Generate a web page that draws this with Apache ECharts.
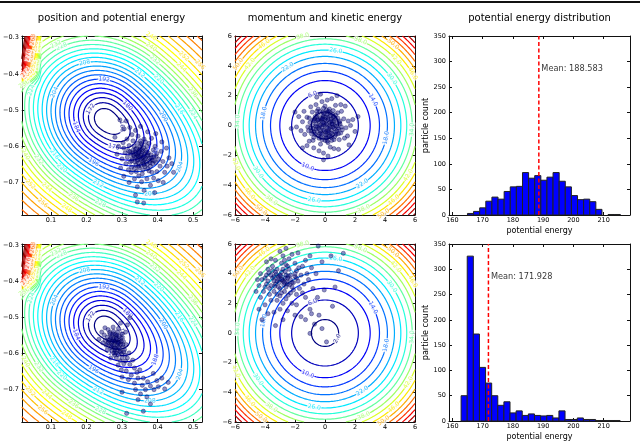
<!DOCTYPE html>
<html>
<head>
<meta charset="utf-8">
<title>particles in a potential</title>
<script src="https://cdn.jsdelivr.net/npm/echarts@6/dist/echarts.min.js"></script>
</head>
<body style="margin:0;background:#fff;">
<div id="main" style="width:640px;height:442px;"></div>
<script>
// contour levels
var potLevels = [168,172,176,180,184,188,192,196,200,204,208,212,216,220,224,228,232,236,240,
                 244,248,252,256,260,264,268,272,276,280,284,288,292,296];
var kinLevels = [2,6,10,14,18,22,26,30,34,38,42,46,50,54,58,62,66,70];

// particles, position space (top = before, bottom = after)
var posTop = [
  [0.352,-0.625],[0.345,-0.619],[0.358,-0.631],[0.349,-0.612],[0.363,-0.622],[0.340,-0.629],[0.355,-0.640],[0.367,-0.611],[0.337,-0.616],[0.360,-0.648],
  [0.344,-0.637],[0.371,-0.627],[0.333,-0.625],[0.350,-0.602],[0.364,-0.637],[0.347,-0.646],[0.374,-0.618],[0.341,-0.606],[0.357,-0.615],[0.329,-0.634],
  [0.368,-0.644],[0.353,-0.653],[0.336,-0.643],[0.377,-0.633],[0.361,-0.604],[0.346,-0.628],[0.331,-0.611],[0.379,-0.645],[0.339,-0.652],[0.365,-0.657],
  [0.356,-0.596],[0.325,-0.622],[0.382,-0.624],[0.348,-0.660],[0.370,-0.600],[0.334,-0.600],[0.359,-0.665],[0.385,-0.638],[0.323,-0.644],[0.343,-0.592],
  [0.350,-0.630],[0.356,-0.620],[0.344,-0.624],[0.362,-0.628],[0.348,-0.617],[0.353,-0.635],[0.339,-0.621],[0.366,-0.633],[0.357,-0.609],[0.342,-0.641],
  [0.373,-0.624],[0.335,-0.630],[0.360,-0.642],[0.351,-0.608],[0.369,-0.616],[0.330,-0.618],[0.378,-0.640],[0.346,-0.655],[0.362,-0.651],[0.338,-0.608],
  [0.383,-0.632],[0.327,-0.640],[0.354,-0.592],[0.371,-0.650],[0.391,-0.640],[0.322,-0.615],[0.386,-0.648],[0.396,-0.628],[0.376,-0.668],[0.335,-0.662],
  [0.318,-0.612],[0.390,-0.629],[0.372,-0.662],[0.327,-0.658],[0.352,-0.585],[0.388,-0.610],[0.315,-0.630],[0.380,-0.655],[0.340,-0.670],[0.366,-0.588],
  [0.395,-0.645],[0.320,-0.598],[0.357,-0.676],[0.331,-0.585],[0.398,-0.620],[0.311,-0.648],[0.384,-0.672],[0.347,-0.682],[0.376,-0.592],[0.309,-0.618],
  [0.403,-0.636],[0.326,-0.672],[0.362,-0.580],[0.393,-0.600],[0.305,-0.605],[0.389,-0.688],[0.335,-0.690],[0.407,-0.655],[0.314,-0.580],[0.370,-0.690],
  [0.300,-0.635],[0.345,-0.572],[0.410,-0.614],[0.318,-0.665],[0.398,-0.670],[0.355,-0.698],[0.383,-0.578],[0.303,-0.590],[0.415,-0.642],[0.328,-0.568],
  [0.294,-0.527],[0.306,-0.552],[0.322,-0.548],[0.338,-0.556],[0.290,-0.600],[0.286,-0.622],[0.296,-0.660],[0.305,-0.683],[0.320,-0.700],[0.343,-0.712],
  [0.362,-0.722],[0.380,-0.708],[0.402,-0.695],[0.420,-0.672],[0.427,-0.655],[0.432,-0.632],[0.425,-0.605],[0.412,-0.588],[0.395,-0.565],[0.372,-0.560],
  [0.343,-0.754],[0.361,-0.757],[0.392,-0.728],[0.440,-0.648],[0.312,-0.530],[0.352,-0.545],[0.280,-0.575],[0.416,-0.700],[0.338,-0.735],[0.445,-0.672]
];
var posBottom = [
  [0.280,-0.565],[0.274,-0.558],[0.287,-0.571],[0.270,-0.572],[0.284,-0.552],[0.292,-0.563],[0.277,-0.580],[0.266,-0.561],[0.290,-0.582],[0.281,-0.547],
  [0.296,-0.574],[0.272,-0.550],[0.262,-0.569],[0.286,-0.590],[0.298,-0.556],[0.276,-0.538],[0.268,-0.583],[0.294,-0.593],[0.259,-0.554],[0.302,-0.581],
  [0.283,-0.598],[0.265,-0.541],[0.288,-0.540],[0.304,-0.566],[0.256,-0.577],[0.279,-0.604],[0.299,-0.600],[0.271,-0.592],[0.253,-0.563],[0.307,-0.589],
  [0.290,-0.530],[0.261,-0.533],[0.300,-0.545],[0.284,-0.612],[0.309,-0.604],[0.250,-0.548],[0.275,-0.526],[0.295,-0.620],[0.258,-0.590],[0.312,-0.575],
  [0.278,-0.565],[0.285,-0.560],[0.273,-0.576],[0.291,-0.568],[0.282,-0.584],
  [0.281,-0.568],[0.276,-0.562],[0.287,-0.576],[0.272,-0.566],[0.284,-0.557],[0.290,-0.571],[0.279,-0.585],[0.268,-0.556],[0.293,-0.586],[0.275,-0.545],
  [0.298,-0.566],[0.270,-0.579],[0.286,-0.548],[0.263,-0.563],[0.296,-0.596],[0.280,-0.592],[0.302,-0.575],[0.267,-0.545],[0.289,-0.603],[0.259,-0.572],
  [0.305,-0.595],[0.292,-0.552],[0.277,-0.598],[0.300,-0.612],[0.310,-0.620],
  [0.315,-0.612],[0.305,-0.628],[0.320,-0.598],[0.289,-0.632],[0.246,-0.570],[0.252,-0.528],[0.310,-0.540],[0.322,-0.630],[0.330,-0.618],[0.312,-0.648],
  [0.298,-0.645],[0.335,-0.640],[0.326,-0.660],[0.342,-0.652],[0.318,-0.672],[0.345,-0.668],[0.350,-0.645],[0.335,-0.682],[0.360,-0.668],[0.357,-0.688],
  [0.338,-0.700],[0.372,-0.678],[0.366,-0.700],[0.380,-0.690],[0.352,-0.712],[0.300,-0.665],[0.268,-0.612],[0.243,-0.540],[0.315,-0.520],[0.296,-0.515],
  [0.390,-0.700],[0.398,-0.675],[0.402,-0.692],[0.370,-0.720],[0.345,-0.728],
  [0.412,-0.668],[0.420,-0.698],[0.380,-0.740],[0.313,-0.766],[0.360,-0.760],[0.235,-0.560],[0.322,-0.500],[0.300,-0.707],[0.430,-0.680],[0.388,-0.655]
];

// particles, momentum space
var momTop = [
  [0.0,0.0],[0.3,0.2],[-0.25,0.35],[0.45,-0.3],[-0.4,-0.2],[0.15,-0.5],[-0.1,0.6],[0.6,0.3],[-0.6,0.1],[0.2,0.55],
  [-0.35,-0.55],[0.5,-0.6],[-0.7,0.45],[0.75,-0.05],[0.05,-0.8],[-0.15,0.9],[0.85,0.5],[-0.9,-0.35],[0.35,0.85],[-0.5,0.75],
  [0.65,-0.75],[-0.2,-0.95],[1.0,0.1],[-1.0,0.2],[0.1,1.05],[-0.75,-0.8],[0.9,-0.55],[-0.45,1.1],[0.55,1.0],[0.2,-1.15],
  [-1.15,-0.1],[1.15,-0.3],[-0.85,0.9],[0.3,0.0],[-0.1,-0.3],[0.1,0.3],[-0.3,0.05],[0.25,-0.2],[-0.05,0.15],[0.4,0.45],
  [-0.55,-0.4],[0.05,-0.45],[0.7,0.7],[-0.65,0.6],[0.45,-1.0],[-0.3,-1.25],[1.25,0.45],[-1.2,0.55],[0.0,1.3],[0.95,-0.95],
  [0.1,0.1],[-0.2,-0.1],[0.35,-0.1],[-0.05,-0.35],[0.2,0.4],[-0.4,0.25],[0.5,0.25],[-0.3,-0.35],[0.05,0.55],[0.4,-0.5],
  [-0.6,-0.25],[0.65,0.0],[-0.15,0.7],[0.25,-0.75],[-0.7,0.3],[0.7,0.45],[-0.45,-0.7],[0.15,0.9],[0.8,-0.35],[-0.85,0.0],
  [0.5,0.75],[-0.55,0.55],[0.0,-1.0],[0.95,0.2],[-0.9,-0.55],[0.3,1.1],[1.05,-0.5],[-1.05,0.5],[0.6,-0.95],[-0.35,0.95],
  [-0.1,0.05],[0.2,-0.35],[-0.3,0.5],[0.45,0.1],[-0.5,-0.1],[0.05,-0.65],[0.75,-0.6],[-0.75,-0.45],[0.55,0.55],[-0.25,-0.8],
  [0.15,-0.15],[-0.15,0.2],[0.4,0.3],[-0.35,-0.05],[0.25,-0.45],[-0.2,0.45],[0.55,-0.1],[-0.5,0.35],[0.1,-0.85],[-0.05,0.8],
  [0.8,0.15],[-0.8,0.35],[0.35,0.65],[-0.4,-0.85],[0.7,-0.45],[-0.65,-0.6],[0.25,0.95],[0.9,-0.2],[-0.95,-0.15],[0.0,0.4],
  [-0.25,-0.5],[0.6,0.6],[-0.55,0.95],[0.4,-0.8],[1.1,-0.1],[-1.1,-0.35],[0.15,-1.05],[-0.1,1.15],[0.85,0.85],[-0.8,-1.0],
  [-1.35,-0.6],[1.4,-0.15],[-0.6,1.4],[0.7,1.35],[1.1,0.95],[-1.05,-1.05],[0.35,-1.45],[-1.5,0.25],[1.55,0.3],[-0.2,1.6],
  [1.3,-0.85],[-0.95,1.25],[0.6,-1.55],[-1.6,-0.35],[0.15,1.7],[-0.75,-1.5],[1.7,0.0],[-1.4,0.95],[1.05,1.4],[-0.4,-1.7],
  [1.5,-0.7],[-1.75,0.6],[0.45,1.8],[1.85,0.4],[-0.1,-1.85],[-1.2,-1.35],[0.9,-1.6],[-1.9,-0.1],[-0.55,1.9],[1.35,1.3],
  [2.0,-0.4],[-2.0,0.9],[0.2,-2.05],[-0.3,2.1],[1.6,-1.3],[-1.5,-1.5],[2.2,0.6],[-2.25,-0.2],[0.8,2.0],[-0.1,-2.3],
  [1.0,0.3],[-0.8,-0.2],[0.35,-0.7],[-0.45,0.4],[0.6,-0.2],[-0.2,-0.6],[0.15,0.75],[-0.6,-0.05],[0.5,0.1],[-0.15,0.45]
];
var momBottom = [
  [-2.8,3.5],[-3.1,3.8],[-2.5,3.3],[-3.3,3.3],[-2.6,3.9],[-3.0,3.0],[-2.3,3.6],[-3.5,3.7],[-2.9,4.1],[-2.2,3.1],
  [-3.6,3.2],[-2.7,2.8],[-3.2,4.3],[-2.0,3.8],[-3.8,3.5],[-2.4,4.3],[-3.4,2.8],[-2.1,3.4],[-3.9,3.9],[-2.6,4.6],
  [-3.0,2.5],[-1.9,4.2],[-4.0,3.1],[-2.9,4.7],[-3.5,4.5],[-2.3,2.7],[-1.8,3.5],[-3.7,2.6],[-3.3,4.9],[-2.0,4.7],
  [-4.2,3.6],[-2.6,2.3],[-1.6,3.9],[-3.8,4.3],[-2.4,5.0],[-3.2,2.2],[-1.7,3.0],[-4.1,2.8],[-2.8,5.2],[-1.5,4.5],
  [-2.85,3.6],[-3.05,3.4],[-2.65,3.7],[-2.95,3.85],[-2.55,3.45],[-3.15,3.65],[-2.75,3.25],[-3.25,3.95],[-2.45,3.85],[-3.4,3.5],
  [-2.9,3.6],[-2.7,3.4],[-3.2,3.5],[-2.5,3.7],[-3.0,3.9],[-2.6,3.1],[-3.4,3.8],[-2.3,3.9],[-3.1,3.1],[-2.8,4.3],
  [-3.6,3.9],[-2.2,3.4],[-3.3,4.1],[-2.0,4.0],[-3.7,3.0],[-2.5,4.5],[-2.9,2.7],[-3.9,3.3],[-2.1,2.9],[-3.5,4.2],
  [-1.9,3.7],[-2.7,4.9],[-3.2,2.6],[-4.0,3.7],[-2.35,3.25],[-3.35,3.15],[-2.65,4.15],[-3.75,4.05],[-1.75,4.4],[-2.45,2.55],
  [-4.4,3.2],[-4.3,4.0],[-3.6,5.0],[-2.2,5.3],[-1.3,4.9],[-1.2,4.0],[-1.4,3.3],[-1.9,2.6],[-2.8,2.0],[-3.6,2.2],
  [-4.3,2.4],[-4.5,3.6],[-3.9,4.8],[-3.0,5.5],[-1.8,5.4],[-1.0,5.2],[-0.45,5.86],[1.22,5.37],[-0.9,4.4],[-1.1,3.6],
  [-1.5,2.7],[-2.2,2.0],[-3.0,1.6],[-4.0,1.9],[-4.6,2.8],[-3.4,1.4],[-2.5,1.5],[-1.9,1.9],[-1.3,2.4],[-0.8,3.0],
  [-0.6,4.0],[-0.2,4.8],[0.4,5.2],[0.67,3.1],[-0.5,2.4],[-1.0,1.6],[-2.0,1.2],[-3.8,1.3],[-4.4,1.6],[-2.6,5.7],
  [-1.0,-0.03],[-0.7,0.6],[-1.3,0.9],[-0.4,1.2],[0.1,-0.6],[-0.2,0.3],[-1.6,1.1],[0.5,1.8],[-0.9,1.3],[-2.8,0.9],
  [-4.2,0.9],[-3.3,0.5],[-0.05,2.9],[0.9,4.2]
];

// histograms of potential energy
var binWidth = 2.02;
var histTopStart = 165.0;
var histTopCounts = [3,7,14,27,35,31,46,55,56,83,72,77,68,74,83,66,55,38,30,31,26,11,0,1,1];
var histBottomStart = 162.9;
var histBottomCounts = [50,326,172,106,75,50,31,38,16,20,11,14,11,10,11,6,20,3,3,6,3,3,1,1,1,1];
var meanTop = 188.583;
var meanBottom = 171.928;

// tick values
var posXTicks = [0.1,0.2,0.3,0.4,0.5];
var posYTicks = [-0.3,-0.4,-0.5,-0.6,-0.7];
var momTicks = [-6,-4,-2,0,2,4,6];
var histXTicks = [160,170,180,190,200,210];
var histYTicks = [0,50,100,150,200,250,300,350];

var FONT = 'DejaVu Sans';

// energy surfaces shown as contours
function potential(x, y) {
  var dx = x - 0.255, dy = y + 0.527;
  var u = dx * 0.781 - dy * 0.625, v = dx * 0.625 + dy * 0.781;
  var uu = u > 0 ? 0.554 * u : 0.838 * u;
  var r = Math.sqrt(uu * uu + v * v + 0.034 * 0.034);
  var far = Math.max(0, r - 0.22);
  var wall = 1000 * Math.max(0, 0.072 - x) / (1 + Math.exp(-(y + 0.41) / 0.008));
  return 164 + 370 * (r - 0.034) - 700 * far * far + wall;
}
function kinetic(px, py) {
  return 0.97 * (px * px + py * py) + 1.2;
}

function jet(t) {
  function c(v) { return Math.round(255 * Math.max(0, Math.min(1, v))); }
  return 'rgb(' + c(1.5 - Math.abs(4 * t - 3)) + ',' + c(1.5 - Math.abs(4 * t - 2)) + ',' + c(1.5 - Math.abs(4 * t - 1)) + ')';
}

function sampleGrid(f, x0, x1, y0, y1, n) {
  var xs = [], ys = [], g = [];
  for (var i = 0; i < n; i++) { xs.push(x0 + (x1 - x0) * i / (n - 1)); ys.push(y0 + (y1 - y0) * i / (n - 1)); }
  for (var j = 0; j < n; j++) {
    var row = [];
    for (var k = 0; k < n; k++) row.push(f(xs[k], ys[j]));
    g.push(row);
  }
  return { xs: xs, ys: ys, g: g };
}

// marching squares, joined into polylines
var CASES = { 1: [[3, 0]], 2: [[0, 1]], 3: [[3, 1]], 4: [[1, 2]], 6: [[0, 2]], 7: [[3, 2]], 8: [[2, 3]],
  9: [[0, 2]], 11: [[1, 2]], 12: [[1, 3]], 13: [[0, 1]], 14: [[3, 0]] };
function traceLevel(G, L) {
  var xs = G.xs, ys = G.ys, g = G.g, n = xs.length;
  var pts = {}, segs = [];
  function hp(i, j) {
    var k = 'h' + i + '_' + j;
    if (!(k in pts)) { var a = g[j][i], b = g[j][i + 1], t = (L - a) / (b - a); pts[k] = [xs[i] + t * (xs[i + 1] - xs[i]), ys[j]]; }
    return k;
  }
  function vp(i, j) {
    var k = 'v' + i + '_' + j;
    if (!(k in pts)) { var a = g[j][i], b = g[j + 1][i], t = (L - a) / (b - a); pts[k] = [xs[i], ys[j] + t * (ys[j + 1] - ys[j])]; }
    return k;
  }
  for (var j = 0; j < n - 1; j++) {
    for (var i = 0; i < n - 1; i++) {
      var v0 = g[j][i], v1 = g[j][i + 1], v2 = g[j + 1][i + 1], v3 = g[j + 1][i];
      var c = (v0 > L ? 1 : 0) | (v1 > L ? 2 : 0) | (v2 > L ? 4 : 0) | (v3 > L ? 8 : 0);
      if (c === 0 || c === 15) continue;
      var pairs = CASES[c];
      if (c === 5 || c === 10) {
        var high = (v0 + v1 + v2 + v3) / 4 > L;
        if ((c === 5) === high) pairs = [[0, 1], [2, 3]];
        else pairs = [[3, 0], [1, 2]];
      }
      for (var p = 0; p < pairs.length; p++) {
        var ks = pairs[p].map(function (e) {
          return e === 0 ? hp(i, j) : e === 1 ? vp(i + 1, j) : e === 2 ? hp(i, j + 1) : vp(i, j);
        });
        segs.push(ks);
      }
    }
  }
  var adj = {};
  segs.forEach(function (s, idx) {
    (adj[s[0]] = adj[s[0]] || []).push(idx);
    (adj[s[1]] = adj[s[1]] || []).push(idx);
  });
  var used = [], out = [];
  function extend(chain) {
    while (true) {
      var last = chain[chain.length - 1], list = adj[last], found = -1;
      for (var q = 0; q < list.length; q++) if (!used[list[q]]) { found = list[q]; break; }
      if (found < 0) break;
      used[found] = true;
      var sg = segs[found];
      chain.push(sg[0] === last ? sg[1] : sg[0]);
    }
  }
  for (var s = 0; s < segs.length; s++) {
    if (used[s]) continue;
    used[s] = true;
    var chain = [segs[s][0], segs[s][1]];
    extend(chain);
    chain.reverse();
    extend(chain);
    out.push(chain.map(function (k) { return pts[k]; }));
  }
  return out;
}

// build contour lines + inline labels for one panel
function contourPanel(f, levels, xr, yr, w, h, fmt, n) {
  var G = sampleGrid(f, xr[0], xr[1], yr[0], yr[1], n);
  var sx = w / (xr[1] - xr[0]), sy = h / (yr[1] - yr[0]);
  var lines = [], labels = [];
  levels.forEach(function (L, li) {
    var color = jet(li / (levels.length - 1));
    traceLevel(G, L).forEach(function (pl, pi) {
      lines.push({ coords: pl, lineStyle: { color: color } });
      var cum = [0];
      for (var k = 1; k < pl.length; k++) {
        var ddx = (pl[k][0] - pl[k - 1][0]) * sx, ddy = (pl[k][1] - pl[k - 1][1]) * sy;
        cum.push(cum[k - 1] + Math.sqrt(ddx * ddx + ddy * ddy));
      }
      var len = cum[cum.length - 1];
      if (len < 40) return;
      var nl = len > 380 ? 2 : 1;
      for (var m = 0; m < nl; m++) {
        var fr = ((0.21 + li * 0.381 + pi * 0.17 + m / nl) % 1);
        var target = fr * len, idx = 1;
        while (idx < cum.length - 1 && cum[idx] < target) idx++;
        var a = pl[Math.max(0, idx - 2)], b = pl[Math.min(pl.length - 1, idx + 2)];
        var ang = Math.atan2((b[1] - a[1]) * sy, (b[0] - a[0]) * sx) * 180 / Math.PI;
        if (ang > 90) ang -= 180;
        if (ang < -90) ang += 180;
        labels.push({ value: pl[idx], label: { formatter: fmt(L), rotate: ang, color: color } });
      }
    });
  });
  return { lines: lines, labels: labels };
}

function minusFmt(d) {
  return function (v) { return (v < 0 ? '\u2212' : '') + Math.abs(v).toFixed(d); };
}

var grids = [
  { left: 21, top: 36, width: 181, height: 179 },
  { left: 235, top: 36, width: 180, height: 179 },
  { left: 449, top: 36, width: 181, height: 179 },
  { left: 21, top: 244, width: 181, height: 178 },
  { left: 235, top: 244, width: 180, height: 178 },
  { left: 449, top: 244, width: 181, height: 178 }
];
var posX = [0.018, 0.525], posY = [-0.79, -0.295];
var momR = [-6, 6];
var histX = [158.9, 218.7], histY = [0, 350];

var xAxes = [], yAxes = [];
function addAxes(gi, xr, yr, xt, yt, xf, yf, xname, yname) {
  [['bottom', true], ['top', false]].forEach(function (p) {
    xAxes.push({
      gridIndex: gi, type: 'value', position: p[0], min: xr[0], max: xr[1],
      axisLine: { show: true, onZero: false, lineStyle: { color: '#111', width: 1 } },
      axisTick: { show: true, inside: true, length: 3, customValues: xt, lineStyle: { color: '#111' } },
      axisLabel: { show: p[1], customValues: xt, formatter: xf, fontSize: 6.5, fontFamily: FONT, color: '#000', margin: 2 },
      splitLine: { show: false },
      name: p[1] ? xname : '', nameLocation: 'middle', nameGap: 12,
      nameTextStyle: { fontSize: 8, fontFamily: FONT, color: '#000' }
    });
  });
  [['left', true], ['right', false]].forEach(function (p) {
    yAxes.push({
      gridIndex: gi, type: 'value', position: p[0], min: yr[0], max: yr[1],
      axisLine: { show: true, onZero: false, lineStyle: { color: '#111', width: 1 } },
      axisTick: { show: true, inside: true, length: 3, customValues: yt, lineStyle: { color: '#111' } },
      axisLabel: { show: p[1], customValues: yt, formatter: yf, fontSize: 6.5, fontFamily: FONT, color: '#000', margin: 3 },
      splitLine: { show: false },
      name: p[1] ? yname : '', nameLocation: 'middle', nameGap: 14, nameRotate: 90,
      nameTextStyle: { fontSize: 8, fontFamily: FONT, color: '#000' }
    });
  });
}
addAxes(0, posX, posY, posXTicks, posYTicks, minusFmt(1), minusFmt(1), '', '');
addAxes(1, momR, momR, momTicks, momTicks, minusFmt(0), minusFmt(0), '', '');
addAxes(2, histX, histY, histXTicks, histYTicks, minusFmt(0), minusFmt(0), 'potential energy', 'particle count');
addAxes(3, posX, posY, posXTicks, posYTicks, minusFmt(1), minusFmt(1), '', '');
addAxes(4, momR, momR, momTicks, momTicks, minusFmt(0), minusFmt(0), '', '');
addAxes(5, histX, histY, histXTicks, histYTicks, minusFmt(0), minusFmt(0), 'potential energy', 'particle count');

var potC = contourPanel(potential, potLevels, posX, posY, 181, 179, function (L) { return String(L); }, 150);
var kinC = contourPanel(kinetic, kinLevels, momR, momR, 180, 179, function (L) { return L.toFixed(1); }, 110);

var series = [];
function addContour(gi, C, particles) {
  series.push({
    type: 'lines', coordinateSystem: 'cartesian2d', xAxisIndex: gi * 2, yAxisIndex: gi * 2,
    polyline: true, silent: true, large: false, z: 1,
    lineStyle: { width: 1.2, opacity: 1 }, data: C.lines
  });
  series.push({
    type: 'scatter', xAxisIndex: gi * 2, yAxisIndex: gi * 2, silent: true, z: 2,
    symbolSize: 1, itemStyle: { color: 'rgba(0,0,0,0)' },
    label: { show: true, position: 'inside', fontSize: 6, fontFamily: FONT, backgroundColor: '#fff', padding: [0, 0.5] },
    data: C.labels
  });
  series.push({
    type: 'scatter', xAxisIndex: gi * 2, yAxisIndex: gi * 2, silent: true, z: 3,
    symbolSize: 4.2,
    itemStyle: { color: 'rgba(0,0,128,0.55)', borderColor: 'rgba(0,0,80,0.75)', borderWidth: 0.6 },
    data: particles
  });
}
function addHist(gi, start, counts, mean) {
  series.push({
    type: 'custom', xAxisIndex: gi * 2, yAxisIndex: gi * 2, silent: true, z: 2,
    data: counts.map(function (c, i) { return [start + i * binWidth, start + (i + 1) * binWidth, c]; }),
    encode: { x: [0, 1], y: 2 },
    renderItem: function (params, api) {
      if (api.value(2) <= 0) return;
      var p0 = api.coord([api.value(0), api.value(2)]);
      var p1 = api.coord([api.value(1), 0]);
      return { type: 'rect', shape: { x: p0[0], y: p0[1], width: p1[0] - p0[0], height: p1[1] - p0[1] },
        style: { fill: '#0000ff', stroke: '#222', lineWidth: 1 } };
    }
  });
  series.push({
    type: 'line', xAxisIndex: gi * 2, yAxisIndex: gi * 2, silent: true, z: 3, symbol: 'none',
    lineStyle: { color: '#ff0000', width: 1.5, type: [4, 2.5] },
    data: [[mean, 0], [mean, 350]]
  });
  series.push({
    type: 'scatter', xAxisIndex: gi * 2, yAxisIndex: gi * 2, silent: true, z: 3,
    symbolSize: 1, itemStyle: { color: 'rgba(0,0,0,0)' },
    label: { show: true, position: 'right', distance: 2, formatter: 'Mean: ' + mean.toFixed(3),
      fontSize: 8.2, fontFamily: FONT, color: '#000' },
    data: [[mean, 285]]
  });
}
addContour(0, potC, posTop);
addContour(1, kinC, momTop);
addHist(2, histTopStart, histTopCounts, meanTop);
addContour(3, potC, posBottom);
addContour(4, kinC, momBottom);
addHist(5, histBottomStart, histBottomCounts, meanBottom);

var titleStyle = { fontSize: 10, fontWeight: 'normal', fontFamily: FONT, color: '#000' };
var option = {
  backgroundColor: '#fff',
  animation: false,
  title: [
    { text: 'position and potential energy', left: 111.5, top: 13, textAlign: 'center', padding: 0, textStyle: titleStyle },
    { text: 'momentum and kinetic energy', left: 325, top: 13, textAlign: 'center', padding: 0, textStyle: titleStyle },
    { text: 'potential energy distribution', left: 539.5, top: 13, textAlign: 'center', padding: 0, textStyle: titleStyle }
  ],
  graphic: [{ type: 'rect', shape: { x: 0, y: 1, width: 640, height: 2 }, style: { fill: '#111' } }],
  grid: grids,
  xAxis: xAxes,
  yAxis: yAxes,
  series: series
};
var myChart = echarts.init(document.getElementById('main'));
myChart.setOption(option);
</script>
</body>
</html>
